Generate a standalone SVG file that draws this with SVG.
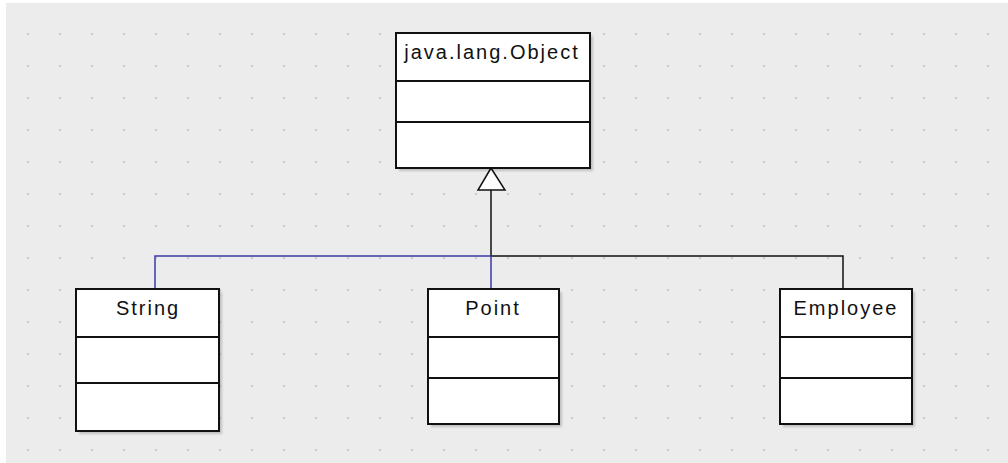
<svg xmlns="http://www.w3.org/2000/svg" width="1008" height="463" viewBox="0 0 1008 463">
<style>
.box{fill:#ffffff;stroke:#111111;stroke-width:2}
.shadow{fill:#000000;opacity:0.18}
.div{stroke:#111111;stroke-width:2}
.lbl{font-family:"Liberation Sans",Arial,sans-serif;font-size:20px;letter-spacing:2px;fill:#111111;text-anchor:middle}
.blk{fill:none;stroke:#111111;stroke-width:1.5}
.blu{fill:none;stroke:#3a3aa6;stroke-width:1.5}
</style>
<defs>
<pattern id="dots" x="0" y="0" width="32" height="32" patternUnits="userSpaceOnUse">
<rect x="27" y="32" width="2" height="2" fill="#c8c8c8"/>
</pattern>
<pattern id="grid" x="0" y="1" width="32" height="32" patternUnits="userSpaceOnUse">
<rect x="27" y="0" width="2.2" height="2.2" fill="#cbcbcb"/>
</pattern>
<filter id="blur" x="-10%" y="-10%" width="120%" height="120%"><feGaussianBlur stdDeviation="1.2"/></filter>
</defs>
<rect width="1008" height="463" fill="#ffffff"/>
<rect x="6" y="3" width="1002" height="460" fill="#ececec"/>
<rect x="6" y="3" width="1002" height="460" fill="url(#grid)"/>

<g id="connectors">
<polyline class="blk" points="491,190 491,256 843,256 843,288"/>
<polyline class="blu" points="155,288 155,256 491,256 491,288"/>
<polygon points="491,168 478,190 505,190" fill="#ffffff" stroke="#111111" stroke-width="1.5"/>
</g>

<g id="object">
<rect class="shadow" x="399" y="36" width="194" height="135" filter="url(#blur)"/>
<rect class="box" x="396" y="33" width="194" height="135"/>
<line class="div" x1="396" y1="81" x2="590" y2="81"/>
<line class="div" x1="396" y1="122" x2="590" y2="122"/>
<text class="lbl" x="492" y="59">java.lang.Object</text>
</g>

<g id="string">
<rect class="shadow" x="79" y="292" width="143" height="142" filter="url(#blur)"/>
<rect class="box" x="76" y="289" width="143" height="142"/>
<line class="div" x1="76" y1="337" x2="219" y2="337"/>
<line class="div" x1="76" y1="383" x2="219" y2="383"/>
<text class="lbl" x="148" y="315">String</text>
</g>

<g id="point">
<rect class="shadow" x="431" y="292" width="131" height="135" filter="url(#blur)"/>
<rect class="box" x="428" y="289" width="131" height="135"/>
<line class="div" x1="428" y1="337" x2="559" y2="337"/>
<line class="div" x1="428" y1="378" x2="559" y2="378"/>
<text class="lbl" x="493" y="315">Point</text>
</g>

<g id="employee">
<rect class="shadow" x="783" y="292" width="132" height="135" filter="url(#blur)"/>
<rect class="box" x="780" y="289" width="132" height="135"/>
<line class="div" x1="780" y1="337" x2="912" y2="337"/>
<line class="div" x1="780" y1="378" x2="912" y2="378"/>
<text class="lbl" x="846" y="315">Employee</text>
</g>
</svg>
